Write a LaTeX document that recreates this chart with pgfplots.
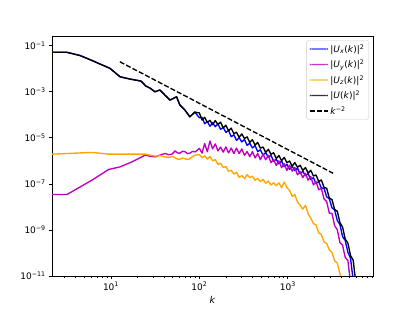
\documentclass[border=0pt]{standalone}
\usepackage{fontspec}
\setmainfont{DejaVu Sans}
\usepackage{pgfplots}
\pgfplotsset{compat=1.18}
\definecolor{mplmag}{rgb}{0.75,0,0.75}
\definecolor{mplorange}{rgb}{1,0.647,0}
\begin{document}
\begin{tikzpicture}
\begin{axis}[
  at={(0,0)}, anchor=south west,
  scale only axis, width=356.7pt, height=266.7pt,
  xmode=log, ymode=log,
  xmin=2.154, xmax=9200, ymin=1e-11, ymax=0.264,
  axis line style={line width=0.8pt},
  every tick/.style={black, line width=0.8pt},
  major tick length=3.5pt, minor tick length=2pt,
  tick align=outside, xtick pos=bottom, ytick pos=left,
  xtick={10,100,1000},
  xticklabels={10\textsuperscript{1},10\textsuperscript{2},10\textsuperscript{3}},
  minor xtick={3,4,5,6,7,8,9,20,30,40,50,60,70,80,90,200,300,400,500,600,700,800,900,2000,3000,4000,5000,6000,7000,8000,9000},
  ytick={1e-11,1e-9,1e-7,1e-5,1e-3,1e-1},
  yticklabels={10\textsuperscript{−11},10\textsuperscript{−9},10\textsuperscript{−7},10\textsuperscript{−5},10\textsuperscript{−3},10\textsuperscript{−1}},
  minor ytick={},
  ticklabel style={font=\fontsize{10}{12}\selectfont},
  xlabel={\textit{k}},
  xlabel style={font=\fontsize{10.5}{12}\selectfont},
  legend cell align=left,
  legend style={at={(1,1)}, anchor=north east, xshift=-4.4pt, yshift=-4.6pt,
    font=\fontsize{10}{12}\selectfont, draw=black!20, rounded corners=2pt,
    fill=white, fill opacity=0.8, text opacity=1, row sep=2.9pt,
    inner xsep=3pt, inner ysep=2.5pt},
  legend image code/.code={\fill[#1, draw=none] (0pt,-0.8pt) rectangle (20pt,0.8pt);},
  every axis plot/.append style={line width=1.5pt, line join=round},
]
% |Ux|^2
\addplot[blue, mark=none] coordinates {
(2.154,5.16e-2) (3.18,5.16e-2) (4.47,3.75e-2) (6.31,2.16e-2) (7.52,1.60e-2) (9.75,1.04e-2) (12.65,4.49e-3) (16.4,3.56e-3) (21.8,2.92e-3) (24.8,1.77e-3) (27.6,1.45e-3) (31.4,1.0e-3) (35.8,1.19e-3) (40.7,7.19e-4) (46.4,4.36e-4) (55.2,6.07e-4) (60.2,2.64e-4) (68.6,1.60e-4) (78.1,8.18e-5) (88.9,1.31e-4)
(100,7.41e-5) (107.2,7.76e-5) (114.8,4.07e-5) (123.0,5.13e-5) (131.8,3.16e-5) (141.3,4.47e-5) (151.4,3.02e-5) (162.2,4.07e-5) (173.8,2.34e-5) (186.2,2.82e-5) (199.5,1.72e-5) (213.8,2.11e-5) (229.1,1.12e-5) (245.5,1.35e-5) (263.0,7.76e-6) (281.8,1.02e-5) (302.0,6.61e-6) (323.6,8.51e-6) (346.7,4.68e-6) (371.5,5.89e-6) (398.1,3.63e-6) (426.6,4.57e-6) (457.1,2.51e-6) (489.8,3.02e-6) (524.8,1.74e-6) (562.3,2.29e-6) (602.6,1.41e-6) (645.7,1.76e-6) (691.8,9.55e-7) (741.3,1.17e-6) (794.3,7.41e-7) (851.1,9.77e-7) (912.0,5.62e-7) (977.2,7.08e-7) (1047,4.27e-7) (1122,5.75e-7) (1202,3.76e-7) (1288,4.79e-7) (1380,2.75e-7) (1479,3.55e-7) (1585,2.24e-7) (1698,2.82e-7) (1820,1.55e-7) (1950,1.86e-7) (2089,1.06e-7) (2239,1.23e-7) (2399,6.61e-8) (2570,6.46e-8) (2754,2.75e-8) (2951,2.24e-8) (3162,9.12e-9) (3388,7.41e-9) (3631,2.57e-9) (3890,1.70e-9) (4169,5.13e-10) (4467,3.47e-10) (4786,1.07e-10) (5129,5.89e-11) (5495,6.31e-12)
};
\addlegendentry{|\textit{U}\textsubscript{\textit{x}}(\textit{k})|\textsuperscript{2}}
% |Uy|^2
\addplot[mplmag, mark=none] coordinates {
(2.154,3.46e-8) (3.18,3.46e-8) (6.10,1.45e-7) (9.42,4.23e-7) (12.7,5.48e-7) (17.3,9.06e-7) (24.4,1.77e-6) (28.5,1.55e-6) (31.7,1.49e-6) (35.8,1.77e-6) (41.1,2.10e-6) (44.5,1.85e-6) (48.9,1.95e-6) (53.3,2.72e-6) (56.5,2.20e-6) (60.2,2.16e-6) (64.5,2.60e-6) (69.2,2.46e-6) (73.5,2.05e-6) (78.1,2.16e-6) (83.5,2.55e-6) (89.8,2.46e-6)
(100,3.48e-6) (107.2,2.16e-6) (114.8,5.65e-6) (123.0,2.49e-6) (131.8,7.26e-6) (141.3,3.30e-6) (151.4,5.45e-6) (162.2,2.70e-6) (173.8,3.98e-6) (186.2,2.39e-6) (199.5,4.05e-6) (213.8,2.21e-6) (229.1,3.59e-6) (245.5,2.07e-6) (263.0,3.56e-6) (281.8,2.07e-6) (302.0,3.30e-6) (323.6,1.73e-6) (346.7,2.54e-6) (371.5,1.52e-6) (398.1,2.53e-6) (426.6,1.34e-6) (457.1,2.07e-6) (489.8,1.12e-6) (524.8,1.95e-6) (562.3,1.12e-6) (602.6,1.72e-6) (645.7,8.30e-7) (691.8,1.14e-6) (741.3,6.31e-7) (794.3,9.95e-7) (851.1,5.07e-7) (912.0,7.46e-7) (977.2,3.85e-7) (1047,6.50e-7) (1122,3.55e-7) (1202,5.18e-7) (1288,2.47e-7) (1380,3.37e-7) (1479,1.86e-7) (1585,2.90e-7) (1698,1.45e-7) (1820,2.07e-7) (1950,9.04e-8) (2089,1.24e-7) (2239,5.52e-8) (2399,6.32e-8) (2570,2.21e-8) (2754,1.70e-8) (2951,5.33e-9) (3162,5.20e-9) (3388,1.52e-9) (3631,1.03e-9) (3890,2.86e-10) (4169,2.16e-10) (4467,6.28e-11) (4786,4.68e-11) (5129,5.0e-12)
};
\addlegendentry{|\textit{U}\textsubscript{\textit{y}}(\textit{k})|\textsuperscript{2}}
% |Uz|^2
\addplot[mplorange, mark=none] coordinates {
(2.154,1.95e-6) (6.10,2.32e-6) (9.42,1.95e-6) (14.4,1.95e-6) (24.4,1.95e-6) (31.7,1.60e-6) (35.8,1.68e-6) (40.0,1.50e-6) (44.9,1.41e-6) (50.2,1.52e-6) (54.0,1.30e-6) (58.2,1.15e-6) (65.2,1.31e-6) (70.0,1.20e-6) (75.5,1.15e-6) (82.2,1.45e-6) (89.8,1.77e-6)
(100,1.87e-6) (107.2,1.36e-6) (114.8,1.66e-6) (123.0,1.20e-6) (131.8,1.57e-6) (141.3,1.00e-6) (151.4,1.14e-6) (162.2,6.95e-7) (173.8,7.89e-7) (186.2,5.13e-7) (199.5,5.64e-7) (213.8,3.52e-7) (229.1,3.88e-7) (245.5,2.67e-7) (263.0,3.18e-7) (281.8,1.93e-7) (302.0,2.30e-7) (323.6,1.71e-7) (346.7,2.49e-7) (371.5,1.88e-7) (398.1,2.14e-7) (426.6,1.43e-7) (457.1,1.71e-7) (489.8,1.26e-7) (524.8,1.57e-7) (562.3,1.06e-7) (602.6,1.32e-7) (645.7,8.91e-8) (691.8,1.12e-7) (741.3,8.45e-8) (794.3,1.11e-7) (851.1,6.76e-8) (912.0,1.20e-7) (977.2,6.92e-8) (1047,5.24e-8) (1122,2.88e-8) (1202,3.43e-8) (1288,1.63e-8) (1380,1.17e-8) (1479,8.04e-9) (1585,1.17e-8) (1698,5.01e-9) (1820,3.27e-9) (1950,1.88e-9) (2089,1.66e-9) (2239,7.45e-10) (2399,6.25e-10) (2570,2.96e-10) (2754,2.62e-10) (2951,1.33e-10) (3162,1.06e-10) (3388,4.53e-11) (3631,3.62e-11) (3890,1.26e-11) (4169,5.0e-12)
};
\addlegendentry{|\textit{U}\textsubscript{\textit{z}}(\textit{k})|\textsuperscript{2}}
% |U|^2
\addplot[black, mark=none] coordinates {
(2.154,5.16e-2) (3.18,5.16e-2) (4.47,3.75e-2) (6.31,2.16e-2) (7.52,1.60e-2) (9.75,1.04e-2) (12.65,4.49e-3) (16.4,3.56e-3) (21.8,2.92e-3) (24.8,1.77e-3) (27.6,1.45e-3) (31.4,1.0e-3) (35.8,1.19e-3) (40.7,7.19e-4) (46.4,4.36e-4) (55.2,6.07e-4) (60.2,2.64e-4) (68.6,1.60e-4) (78.1,8.18e-5) (88.9,1.31e-4)
(100,1.202e-4) (107.2,5.89e-5) (114.8,7.76e-5) (123.0,4.68e-5) (131.8,5.75e-5) (141.3,3.72e-5) (151.4,5.62e-5) (162.2,3.80e-5) (173.8,4.79e-5) (186.2,2.69e-5) (199.5,3.51e-5) (213.8,2.02e-5) (229.1,2.63e-5) (245.5,1.51e-5) (263.0,1.74e-5) (281.8,1.05e-5) (302.0,1.48e-5) (323.6,9.33e-6) (346.7,1.10e-5) (371.5,6.31e-6) (398.1,8.32e-6) (426.6,4.79e-6) (457.1,6.31e-6) (489.8,3.55e-6) (524.8,3.98e-6) (562.3,2.34e-6) (602.6,3.16e-6) (645.7,1.93e-6) (691.8,2.24e-6) (741.3,1.26e-6) (794.3,1.70e-6) (851.1,1.02e-6) (912.0,1.41e-6) (977.2,8.32e-7) (1047,9.77e-7) (1122,5.89e-7) (1202,8.41e-7) (1288,5.25e-7) (1380,6.46e-7) (1479,3.80e-7) (1585,5.13e-7) (1698,2.95e-7) (1820,3.89e-7) (1950,2.19e-7) (2089,2.43e-7) (2239,1.26e-7) (2399,1.48e-7) (2570,7.08e-8) (2754,6.46e-8) (2951,2.40e-8) (3162,2.09e-8) (3388,7.76e-9) (3631,6.46e-9) (3890,2.09e-9) (4169,1.32e-9) (4467,3.98e-10) (4786,2.69e-10) (5129,7.76e-11) (5495,4.79e-11) (5888,5.0e-12)
};
\addlegendentry{|\textit{U}(\textit{k})|\textsuperscript{2}}
% k^-2
\addplot[black, mark=none, dash pattern=on 5.55pt off 2.4pt,
  legend image code/.code={\draw[black, line width=1.5pt, dash pattern=on 5.55pt off 2.4pt] (0pt,0pt) -- (20pt,0pt);}] coordinates {
(12.6,2.01e-2) (3250,2.9e-7)
};
\addlegendentry{\textit{k}\textsuperscript{−2}}
\end{axis}
\pgfresetboundingbox
\path (-57.8pt,-38.9pt) rectangle (403.4pt,306.7pt);
\end{tikzpicture}
\end{document}
